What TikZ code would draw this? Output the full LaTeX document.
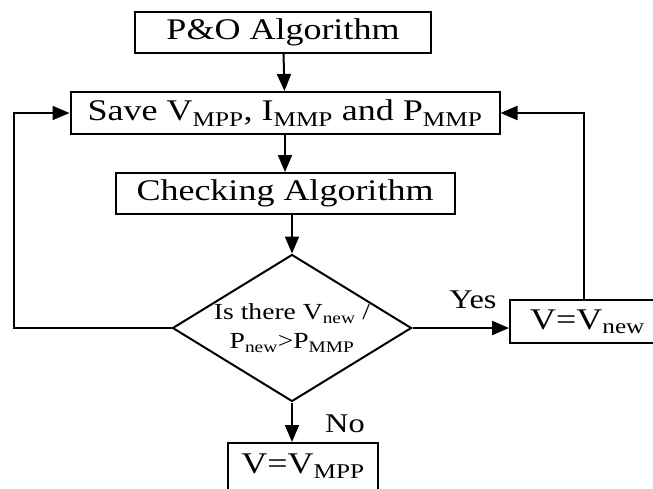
\documentclass[tikz,border=0pt]{standalone}
\usepackage{fontspec}
\setmainfont{Liberation Serif}[FakeStretch=1.2]
\usetikzlibrary{arrows.meta,shapes.geometric}
\newcommand{\ssub}[1]{\textsubscript{#1}}

\begin{document}
\begin{tikzpicture}[
  x=1pt,
  y=-1pt,
  every node/.style={font=\fontsize{30}{32}\selectfont, black},
  stepbox/.style={draw, line width=2pt, inner sep=0pt},
  decision/.style={draw, diamond, aspect=1.63, line width=2pt, inner sep=0pt,
    align=center, font=\fontsize{23}{29}\selectfont},
  flow/.style={line width=2pt, -{Triangle[length=17pt, width=14pt]}},
  answer/.style={anchor=base, font=\fontsize{27}{28}\selectfont}
]
  % ---- bounding box of the whole chart --------------------------------
  \path[use as bounding box] (0,0) rectangle (653,488);

  % ---- the boxes -------------------------------------------------------
  \node[stepbox, minimum width=296pt, minimum height=41pt] (po) at (283,32.5)
    {P\&O Algorithm};
  \node[stepbox, minimum width=429pt, minimum height=42pt] (save) at (285,113)
    {Save V\ssub{MPP}, I\ssub{MMP} and P\ssub{MMP}};
  \node[stepbox, minimum width=339pt, minimum height=41pt] (check) at (285,193.5)
    {Checking Algorithm};
  \node[decision, minimum width=239pt, minimum height=147pt] (dec) at (292,328)
    {Is there V\ssub{new} /\\P\ssub{new}>P\ssub{MMP}};
  \node[stepbox, minimum width=155pt, minimum height=43pt] (new) at (587.5,321.5)
    {V=V\ssub{new}};
  \node[stepbox, minimum width=150pt, minimum height=47pt] (mpp) at (303,466.5)
    {V=V\ssub{MPP}};

  % ---- corners of the two loops ----------------------------------------
  \coordinate (lft) at (14,113);
  \coordinate (rgt) at (584,113);

  % ---- main line -------------------------------------------------------
  \draw[flow] (po) -- (save);
  \draw[flow] (save) -- (check);
  \draw[flow] (check.south -| dec.north) -- (dec.north);
  \draw[flow] (dec.east) -- (dec.east -| new.west);
  \draw[flow] (dec.south) -- (dec.south |- mpp.north);

  % ---- the loops back --------------------------------------------------
  \draw[flow] (dec.west) -| (lft) -- (save.west);
  \draw[flow] (rgt |- new.north) -- (rgt) -- (save.east);

  % ---- answers ---------------------------------------------------------
  \node[answer] (yes) at (473,308) {Yes};
  \node[answer] (no) at (345,432) {No};
\end{tikzpicture}
\end{document}
